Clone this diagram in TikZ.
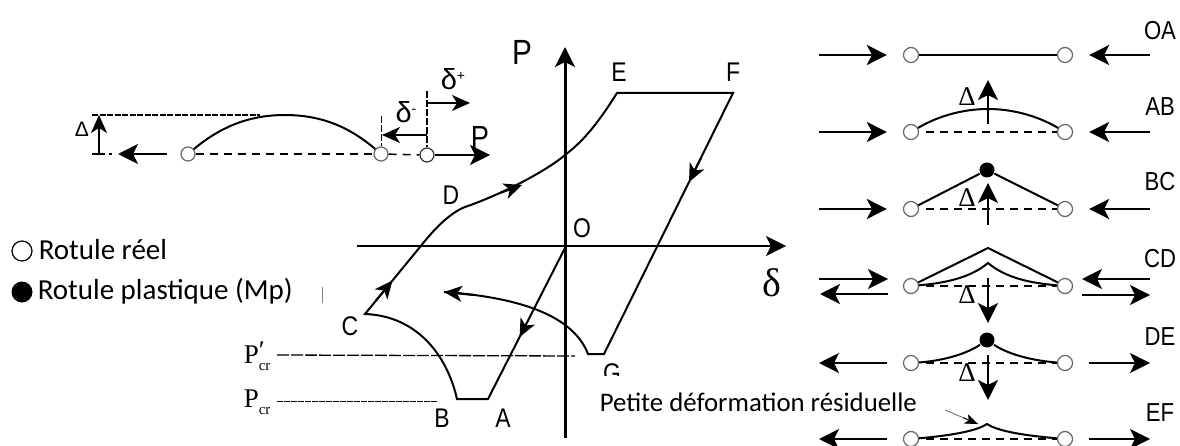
\documentclass[tikz,border=0pt]{standalone}
\usepackage{fontspec}
\setmainfont{Liberation Sans}
\newfontfamily\serifgr{Liberation Serif}
\newfontfamily\carlito{Carlito}
\newfontfamily\etroit[FakeStretch=0.85]{Liberation Sans}
\usetikzlibrary{arrows.meta, calc}

\begin{document}
\begin{tikzpicture}[x=1pt, y=-1pt, line width=1.5pt,
    tip/.style={-{Stealth[length=20pt, width=20pt, inset=5pt]}},
    petit/.style={-{Stealth[length=18pt, width=16pt, inset=5pt]}},
    force/.style={tip, line width=2pt},
    fin/.style={petit, line width=1.2pt},
    hinge/.style={circle, draw=black!60, line width=1.2pt, fill=white, inner sep=0pt, minimum size=15pt},
    rotule/.style={circle, fill=black, inner sep=0pt, minimum size=15pt},
    axe/.style={line width=3pt},
    courbe/.style={line width=2pt, line join=miter},
    tiret/.style={dash pattern=on 8pt off 6pt, line width=1.5pt},
    lettre/.style={font=\etroit\fontsize{27}{27}\selectfont, inner sep=0pt},
    casrow/.style={font=\etroit\fontsize{26}{26}\selectfont, inner sep=0pt},
    delta/.style={font=\serifgr\fontsize{27}{27}\selectfont, inner sep=0pt},
    indice/.style={font=\serifgr\fontsize{27}{27}\selectfont, inner sep=0pt, anchor=west},
    legende/.style={font=\carlito\fontsize{29}{29}\selectfont, inner sep=0pt, anchor=west}]
    \useasboundingbox (0,0) rectangle (1180,446);

    % axes
    \coordinate (Pbas) at (565,438);
    \coordinate (Phaut) at (565,47);
    \coordinate (dgauche) at (357,246);
    \coordinate (ddroite) at (786,246);
    \draw[axe, tip] (Pbas) -- (Phaut);
    \draw[line width=1.8pt, tip] (dgauche) -- (ddroite);
    \node[lettre, font=\etroit\fontsize{35}{35}\selectfont] (Plabel) at (522,52) {P};
    \node[delta, font=\serifgr\fontsize{40}{40}\selectfont] (dlabel) at (772,283) {δ};

    % hysteresis
    \coordinate (O) at (565,248);
    \coordinate (A) at (488,399);
    \coordinate (B) at (457,399);
    \coordinate (C) at (365,314);
    \coordinate (K) at (420,247);
    \coordinate (E) at (617,93);
    \coordinate (F) at (733,93);
    \coordinate (Gd) at (604,354);
    \coordinate (Gg) at (588,354);
    \coordinate (Gfin) at (444,292);
    \draw[courbe] (O) -- (A) -- (B) .. controls (447,355) and (417,316) .. (C)
        -- (K) .. controls (435,228) and (450,213) .. (465,207)
        .. controls (500,195) and (545,172) .. (565,155)
        .. controls (585,140) and (600,120) .. (E) -- (F) -- (Gd) -- (Gg)
        .. controls (575,320) and (530,298) .. (Gfin);
    \draw[force, petit] ($(Gfin)+(30,3)$) -- (Gfin);
    \draw[force, petit] ($(C)!0.2!(K)$) -- ($(C)!0.5!(K)$);
    \draw[force, petit] (500,193) -- (522,185);
    \draw[force, petit] ($(F)!0.25!(Gd)$) -- ($(F)!0.341!(Gd)$);
    \draw[force, petit] ($(O)!0.5!(A)$) -- ($(O)!0.59!(A)$);

    \node[lettre] (lC) at (350,326) {C};
    \node[lettre] (lD) at (451,195) {D};
    \node[lettre] (lE) at (619,72) {E};
    \node[lettre] (lF) at (733,72) {F};
    \node[lettre] (lB) at (442,418) {B};
    \node[lettre] (lA) at (503,418) {A};
    \node[lettre] (lO) at (582,228) {O};
    \node[lettre] (lG) at (612,373) {G};

    % charges critiques
    \node[indice] (Pcrp) at (243,356) {P\rlap{\raisebox{4pt}{′}}\raisebox{-7pt}{\fontsize{15}{15}\selectfont cr}};
    \node[indice] (Pcr) at (243,402) {P\raisebox{-7pt}{\fontsize{15}{15}\selectfont cr}};
    \coordinate (debPcrp) at (277,355);
    \coordinate (debPcr) at (277,401);
    \coordinate (finPcrp) at (575,356);
    \coordinate (finPcr) at (437,401);
    \draw[line width=1.3pt, dash pattern=on 12pt off 2pt] (debPcrp) -- (finPcrp);
    \draw[line width=1pt, dash pattern=on 6pt off 1pt] (debPcr) -- (finPcr);
    \node[fill=white, inner sep=0pt, minimum height=52pt, anchor=west, font=\carlito\fontsize{26.8}{27}\selectfont] (residu) at (599,402) {Petite déformation résiduelle};

    % poteau a gauche
    \node[hinge, minimum size=14pt] (h1) at (188,154) {};
    \node[hinge, minimum size=14pt] (h2) at (381,154) {};
    \node[hinge, minimum size=14pt, draw=black!80] (h3) at (427,155) {};
    \draw[courbe] (h1) .. controls (225,123) and (255,115) .. (285,115) .. controls (315,115) and (345,123) .. (h2);
    \draw[tiret] (h1) -- (h2);
    \draw[tiret] (h2) -- (h3);
    \coordinate (chargeG) at (118,154);
    \coordinate (chargeD) at (490,155);
    \draw[force, line width=2.4pt, shorten <=13pt] (h1) -- (chargeG);
    \draw[force, line width=1.6pt] (h3) -- (chargeD);
    \coordinate (basD) at (99,154);
    \coordinate (hautD) at (99,115);
    \draw[force, petit, line width=1.4pt] (basD) -- (hautD);
    \draw[line width=1.2pt] (92,154) -- (basD);
    \draw[line width=1.2pt, dash pattern=on 6pt off 4pt] (basD) -- (112,154);
    \draw[tiret, dash pattern=on 6pt off 1.5pt, line width=1.1pt] (92,115) -- (260,115);
    \node[delta, font=\fontsize{21}{21}\selectfont] (dlt) at (82,129) {Δ};
    \coordinate (haut3) at (427,91);
    \coordinate (haut2) at (381,116);
    \draw[line width=1.4pt, dash pattern=on 7pt off 2pt] (haut3) -- (h3);
    \draw[line width=1pt, dash pattern=on 7pt off 2pt] (haut2) -- (h2);
    \draw[fin] (427,103) -- (470,103);
    \draw[fin] (427,135) -- (382,135);
    \node[delta, font=\fontsize{29}{29}\selectfont] (dplus) at (453,79) {δ\raisebox{9pt}{\fontsize{14}{14}\selectfont +}};
    \node[delta, font=\fontsize{29}{29}\selectfont] (dmoins) at (406,112) {δ\raisebox{9pt}{\fontsize{14}{14}\selectfont -}};
    \node[lettre, font=\etroit\fontsize{32}{32}\selectfont] (Pg) at (480,137) {P};

    % legende
    \node[circle, draw=black, line width=1.2pt, inner sep=0pt, minimum size=20pt] (lg1) at (22,251) {};
    \node[rotule, minimum size=21pt] (lg2) at (22,292) {};
    \node[legende] (txt1) at (38,250) {Rotule réel};
    \node[legende] (txt2) at (37,291) {Rotule plastique (Mp)};
    \draw[line width=0.6pt, black!50] (322,287) -- (322,303);

    % cas a droite
    \foreach \i/\y/\nom/\ynom in {1/55/OA/31, 2/132/AB/107, 3/209/BC/182, 4/286/CD/259, 5/363/DE/337, 6/439/EF/413} {
        \node[hinge] (g\i) at (911,\y) {};
        \node[hinge] (d\i) at (1065,\y) {};
        \node[casrow] (c\i) at (1160,\ynom) {\nom};
        \coordinate (eg\i) at (819,\y);
        \coordinate (ed\i) at (1150,\y);
    }
    \foreach \i in {1,2,3} {
        \draw[force, shorten >=16pt] (eg\i) -- (g\i);
        \draw[force, shorten >=16pt] (ed\i) -- (d\i);
    }
    \foreach \i in {5,6} {
        \draw[force, shorten <=16pt] (g\i) -- (eg\i);
        \draw[force, shorten <=16pt] (d\i) -- (ed\i);
    }
    \draw[courbe] (g1) -- (d1);
    \foreach \i in {2,...,6} {
        \draw[tiret, shorten <=7pt] (g\i) -- (d\i);
    }

    % AB
    \draw[courbe] (g2) .. controls (940,115) and (965,109) .. (988,109) .. controls (1011,109) and (1036,115) .. (d2);
    \draw[force] (988,124) -- (988,80);
    \node[delta] (dAB) at (967,97) {Δ};

    % BC
    \node[rotule] (m3) at (987,170) {};
    \draw[courbe] (g3) -- (m3) -- (d3);
    \draw[force] (988,225) -- (988,183);
    \node[delta] (dBC) at (967,198) {Δ};

    % CD
    \coordinate (eg4a) at (819,279);
    \coordinate (eg4b) at (888,294);
    \coordinate (fg4a) at (888,279);
    \coordinate (fg4b) at (820,294);
    \coordinate (ed4a) at (1150,279);
    \coordinate (fd4a) at (1082,279);
    \coordinate (ed4b) at (1082,295);
    \coordinate (fd4b) at (1150,295);
    \draw[force] (eg4a) -- (fg4a);
    \draw[force] (eg4b) -- (fg4b);
    \draw[force] (ed4a) -- (fd4a);
    \draw[force, line width=1.4pt] (ed4b) -- (fd4b);
    \coordinate (m4) at (988,248);
    \coordinate (n4) at (988,263);
    \draw[courbe] (g4) -- (m4) -- (d4);
    \draw[courbe] (g4) .. controls (945,283) and (970,278) .. (n4) .. controls (1006,278) and (1030,283) .. (d4);
    \draw[force] (988,278) -- (988,323);
    \node[delta] (dCD) at (967,295) {Δ};

    % DE
    \node[rotule] (m5) at (987,340) {};
    \draw[courbe] (g5) .. controls (940,361) and (965,355) .. (m5) .. controls (1009,355) and (1035,361) .. (d5);
    \draw[force] (988,355) -- (988,400);
    \node[delta] (dDE) at (967,373) {Δ};

    % EF
    \coordinate (m6) at (987,424);
    \draw[courbe] (g6) .. controls (945,436) and (975,432) .. (m6) .. controls (999,432) and (1030,436) .. (d6);
    \coordinate (flecheA) at (945,410);
    \coordinate (flecheB) at (978,424);
    \draw[line width=0.8pt, black!60] (flecheA) -- (flecheB);
    \draw[-{Stealth[length=13pt, width=10pt, inset=3pt]}, line width=0.8pt] ($(flecheA)!0.55!(flecheB)$) -- (flecheB);
\end{tikzpicture}
\end{document}
